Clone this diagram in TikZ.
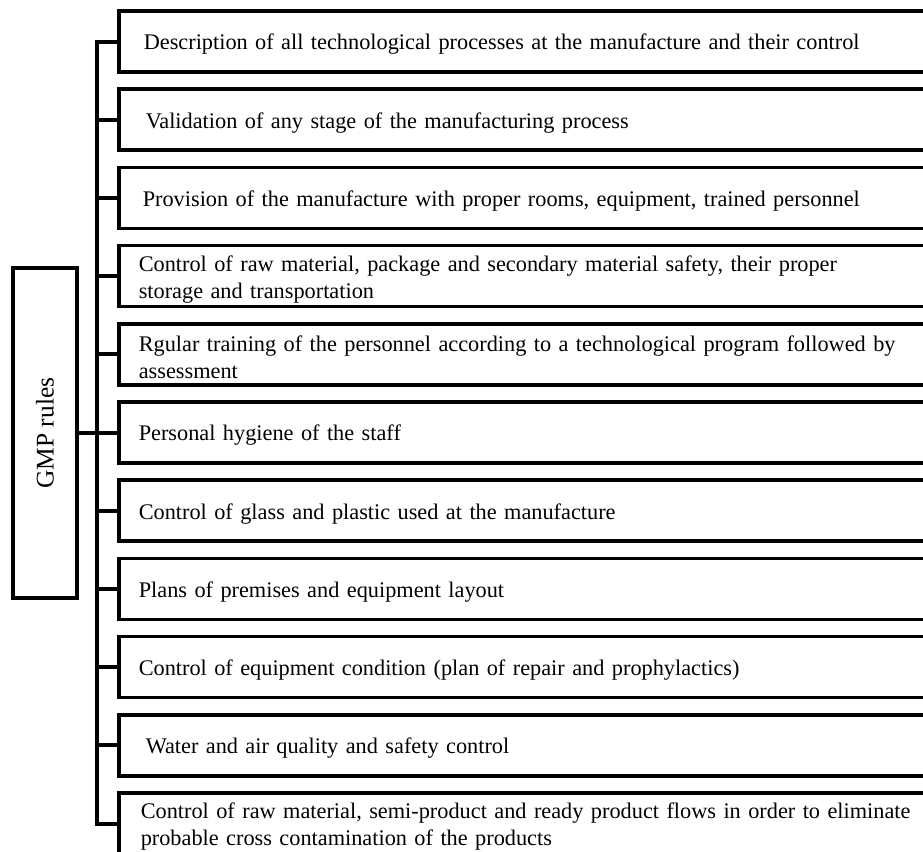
\documentclass[tikz,border=0pt]{standalone}
\usepackage{fontspec}
\setmainfont{Liberation Serif}
\hyphenpenalty=10000
\tikzset{
	rulebox/.style={draw, line width=1.75pt, rectangle, anchor=west, minimum height=30.5pt, text width=402pt, inner xsep=10pt, inner ysep=0pt, align=left, font=\fontsize{11.15}{13.5}\selectfont, execute at begin node={\rule{0pt}{10.9pt}}},
	branch/.style={line width=2pt},
}

\begin{document}
\begin{tikzpicture}[x=0.5pt, y=-0.5pt]
				\useasboundingbox (0,0) rectangle (923,852);
				\clip (0,0) rectangle (923,852);
				
				\node[rulebox] (r1) at (117, 41.5) {\hspace{2.5pt}Description of all technological processes at the manufacture and their control};
				\node[rulebox] (r2) at (117, 119.7) {\hspace{3.5pt}Validation of any stage of the manufacturing process};
				\node[rulebox] (r3) at (117, 197.9) {\hspace{2pt}Provision of the manufacture with proper rooms, equipment, trained personnel};
				\node[rulebox] (r4) at (117, 276.1) {Control of raw material, package and secondary material safety, their proper\\storage and transportation};
				\node[rulebox] (r5) at (117, 354.3) {Rgular training of the personnel according to a technological program followed by\\assessment};
				\node[rulebox] (r6) at (117, 432.5) {Personal hygiene of the staff};
				\node[rulebox] (r7) at (117, 510.7) {Control of glass and plastic used at the manufacture};
				\node[rulebox] (r8) at (117, 588.9) {Plans of premises and equipment layout};
				\node[rulebox] (r9) at (117, 667.1) {Control of equipment condition (plan of repair and prophylactics)};
				\node[rulebox] (r10) at (117, 745.3) {\hspace{3.5pt}Water and air quality and safety control};
				\node[rulebox] (r11) at (117, 823.5) {\hspace{1pt}Control of raw material, semi-product and ready product flows in order to eliminate\\\hspace{1pt}probable cross contamination of the products};
				
				\node[draw, line width=1.75pt, minimum width=32pt, minimum height=165pt, inner sep=0pt, font=\fontsize{12.7}{15}\selectfont] (gmp) at (45, 433) {\rotatebox{90}{GMP rules}};
				
				\coordinate (bus) at (97, 433);
				\draw[branch] (r1.west) -| (bus) |- (r11.west);
				\foreach \n in {r2,r3,r4,r5,r6,r7,r8,r9,r10}
					\draw[branch] (\n.west) -- (\n.west -| bus);
				\draw[branch] (gmp.east) -- (bus);
			\end{tikzpicture}
\end{document}
